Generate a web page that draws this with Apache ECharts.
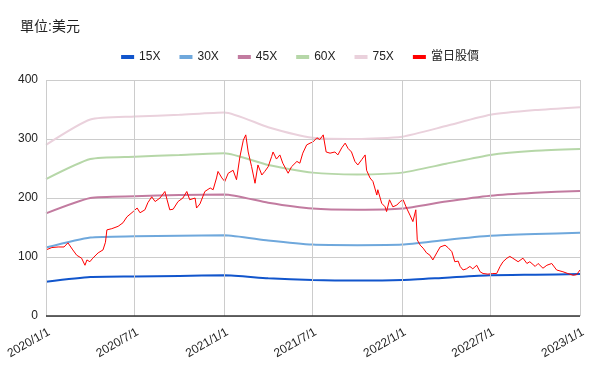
<!DOCTYPE html>
<html>
<head>
<meta charset="utf-8">
<script src="https://cdn.jsdelivr.net/npm/echarts@6/dist/echarts.min.js"></script>
<style>
html,body{margin:0;padding:0;background:#fff;}
#chart{width:600px;height:371px;}
</style>
</head>
<body>
<div id="chart"></div>
<script>
// ---- data ----
const xTickDates = ['2020-01-01','2020-07-01','2021-01-01','2021-07-01','2022-01-01','2022-07-01','2023-01-01'];
const yTicks = [0, 100, 200, 300, 400];

const quarterDates = ['2020-01-01','2020-04-01','2020-07-01','2020-10-01','2021-01-01','2021-04-01','2021-07-01','2021-10-01','2022-01-01','2022-04-01','2022-07-01','2022-10-01','2023-01-01'];
const pe15 = [58, 66, 67, 68, 69, 64, 61, 60, 61, 65, 69, 70, 71];
const pe30 = [116, 133, 135, 136, 137, 128, 121, 120, 121, 129, 136, 139, 141];
const pe45 = [174, 200, 203, 205, 206, 192, 182, 180, 182, 194, 204, 209, 212];
const pe60 = [232, 266, 270, 273, 276, 256, 243, 240, 243, 258, 273, 280, 283];
const pe75 = [290, 333, 338, 341, 345, 320, 302, 300, 304, 322, 341, 349, 354];

const priceDates = ['2020-01-01','2020-01-13','2020-01-26','2020-02-07','2020-02-15','2020-02-25','2020-03-04','2020-03-14','2020-03-21','2020-03-25','2020-03-31','2020-04-06','2020-04-17','2020-04-27','2020-05-02','2020-05-05','2020-05-15','2020-05-28','2020-06-07','2020-06-15','2020-06-28','2020-07-06','2020-07-12','2020-07-22','2020-07-28','2020-08-05','2020-08-12','2020-08-22','2020-09-01','2020-09-11','2020-09-18','2020-09-28','2020-10-08','2020-10-16','2020-10-22','2020-11-02','2020-11-05','2020-11-12','2020-11-22','2020-12-03','2020-12-09','2020-12-16','2020-12-19','2020-12-27','2021-01-02','2021-01-09','2021-01-19','2021-01-26','2021-02-02','2021-02-09','2021-02-14','2021-02-19','2021-02-26','2021-03-05','2021-03-11','2021-03-19','2021-03-25','2021-04-01','2021-04-08','2021-04-11','2021-04-18','2021-04-25','2021-05-01','2021-05-12','2021-05-19','2021-05-30','2021-06-05','2021-06-11','2021-06-19','2021-06-26','2021-07-02','2021-07-10','2021-07-16','2021-07-23','2021-07-29','2021-08-06','2021-08-16','2021-08-22','2021-08-30','2021-09-06','2021-09-12','2021-09-19','2021-09-26','2021-10-02','2021-10-10','2021-10-17','2021-10-20','2021-10-27','2021-11-02','2021-11-10','2021-11-12','2021-11-20','2021-11-27','2021-11-30','2021-12-06','2021-12-13','2021-12-21','2021-12-28','2022-01-03','2022-01-10','2022-01-17','2022-01-23','2022-01-29','2022-02-01','2022-02-07','2022-02-13','2022-02-20','2022-02-27','2022-03-05','2022-03-13','2022-03-20','2022-03-30','2022-04-05','2022-04-13','2022-04-19','2022-04-26','2022-04-30','2022-05-06','2022-05-13','2022-05-20','2022-05-26','2022-06-03','2022-06-10','2022-06-16','2022-06-26','2022-07-06','2022-07-14','2022-07-21','2022-07-27','2022-08-04','2022-08-10','2022-08-16','2022-08-27','2022-09-06','2022-09-14','2022-09-20','2022-10-01','2022-10-07','2022-10-17','2022-10-25','2022-11-04','2022-11-14','2022-11-27','2022-12-07','2022-12-18','2022-12-25','2023-01-01'];
const priceValues = [112,116,117,117,124,112,103,98,86,95,92,98,107,112,125,146,148,152,158,168,177,183,175,180,192,202,194,200,211,180,181,194,200,211,197,200,183,190,211,217,214,234,245,234,228,242,247,231,270,298,307,278,253,225,256,239,245,253,270,278,266,273,259,242,253,262,259,276,290,293,295,302,299,307,278,276,278,273,285,293,284,278,262,256,265,273,247,234,228,205,214,191,185,177,197,185,188,194,197,183,171,160,180,129,120,115,107,103,95,107,117,120,116,109,92,93,84,78,80,84,80,86,75,72,71,72,72,84,92,98,101,98,92,98,89,92,84,89,81,86,89,78,75,72,69,70,78];

const seriesNames = ['15X','30X','45X','60X','75X','當日股價'];
const seriesColors = ['#1155cc','#6fa8dc','#c27ba0','#b6d7a8','#ead1dc','#ff0000'];
const titleText = '單位:美元';

// ---- chart ----
const ts = d => Date.UTC(+d.slice(0,4), +d.slice(5,7) - 1, +d.slice(8,10));
const pairs = (dates, vals) => dates.map((d, i) => [ts(d), vals[i]]);
const bandValues = [pe15, pe30, pe45, pe60, pe75];
const xTickTs = xTickDates.map(ts);
const labelMap = {};
xTickDates.forEach((d, i) => { labelMap[xTickTs[i]] = (+d.slice(0,4)) + '/' + (+d.slice(5,7)) + '/' + (+d.slice(8,10)); });

const series = [{
  // vertical grid lines at the labelled dates, plus the dark baseline
  type: 'line',
  data: [],
  silent: true,
  z: 0,
  markLine: {
    silent: true, symbol: 'none', label: { show: false },
    animation: false,
    data: xTickTs.map(t => ({ xAxis: t, lineStyle: { color: '#cccccc', width: 1, type: 'solid' } }))
      .concat([{ yAxis: yTicks[0], lineStyle: { color: '#333333', width: 1.5, type: 'solid' } }])
  }
}];
bandValues.forEach((vals, i) => series.push({
  name: seriesNames[i],
  type: 'line',
  data: pairs(quarterDates, vals),
  showSymbol: false,
  symbol: 'none',
  smooth: 0.2,
  lineStyle: { width: 2, color: seriesColors[i] },
  itemStyle: { color: seriesColors[i] },
  z: 2
}));
series.push({
  name: seriesNames[5],
  type: 'line',
  data: pairs(priceDates, priceValues),
  showSymbol: false,
  symbol: 'none',
  lineStyle: { width: 1, color: seriesColors[5] },
  itemStyle: { color: seriesColors[5] },
  z: 3
});

const chart = echarts.init(document.getElementById('chart'), null, { renderer: 'canvas' });
const fontFam = 'Arial, "Liberation Sans", "Noto Sans CJK TC", sans-serif';

chart.setOption({
  animation: false,
  backgroundColor: '#ffffff',
  textStyle: { fontFamily: fontFam },
  title: {
    text: titleText,
    left: 15, top: 15,
    textStyle: { fontSize: 14, fontWeight: 'normal', color: '#222', fontFamily: fontFam }
  },
  legend: {
    data: seriesNames,
    top: 46, left: 'center',
    itemWidth: 13, itemHeight: 4, itemGap: 19,
    icon: 'rect',
    textStyle: { fontSize: 12, color: '#222', fontFamily: fontFam }
  },
  grid: { left: 46, right: 20, top: 80, bottom: 55, containLabel: false },
  xAxis: {
    type: 'value',
    min: xTickTs[0],
    max: xTickTs[xTickTs.length - 1],
    axisLine: { show: false },
    axisTick: { show: false, customValues: xTickTs },
    splitLine: { show: false },
    axisLabel: {
      customValues: xTickTs,
      rotate: 30,
      fontSize: 12,
      color: '#222',
      margin: 10,
      verticalAlign: 'top',
      showMinLabel: true, showMaxLabel: true,
      formatter: v => labelMap[v] || ''
    }
  },
  yAxis: {
    type: 'value',
    min: yTicks[0], max: yTicks[yTicks.length - 1], interval: 100,
    axisLine: { show: false },
    axisTick: { show: false },
    splitLine: { lineStyle: { color: '#cccccc', width: 1 } },
    axisLabel: { fontSize: 12, color: '#222', margin: 8 }
  },
  series: series
});
</script>
</body>
</html>
